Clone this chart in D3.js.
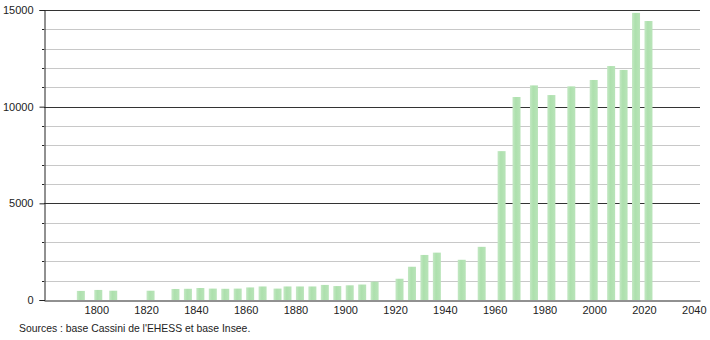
<!DOCTYPE html>
<html>
<head>
<meta charset="utf-8">
<script src="https://cdn.jsdelivr.net/npm/d3@7"></script>
<style>
  body { margin: 0; background: #fff; }
  text { font-family: "Liberation Sans", Arial, sans-serif; }
</style>
</head>
<body>
<div id="chart"></div>
<script>
// Census years and population
const years = [1793, 1800, 1806, 1821, 1831, 1836, 1841, 1846, 1851, 1856, 1861, 1866,
  1872, 1876, 1881, 1886, 1891, 1896, 1901, 1906, 1911, 1921, 1926, 1931, 1936, 1946,
  1954, 1962, 1968, 1975, 1982, 1990, 1999, 2006, 2011, 2016, 2021];
const population = [470, 520, 480, 480, 570, 580, 620, 590, 580, 590, 650, 700,
  590, 700, 700, 700, 780, 720, 760, 800, 950, 1100, 1720, 2330, 2450, 2080,
  2750, 7700, 10500, 11100, 10600, 11050, 11380, 12100, 11900, 14850, 14430];
const xTicks = [1800, 1820, 1840, 1860, 1880, 1900, 1920, 1940, 1960, 1980, 2000, 2020, 2040];
const yTicks = [0, 5000, 10000, 15000];
const source = "Sources : base Cassini de l'EHESS et base Insee.";

const data = years.map((y, i) => ({ year: y, value: population[i] }));

const width = 710, height = 340;
const margins = { top: 10, right: 10, bottom: 40, left: 44 };

const svg = d3.select("#chart")
  .append("svg")
  .attr("width", width)
  .attr("height", height);

const xScale = d3.scaleLinear()
  .domain([1779, 2042.5])
  .range([margins.left, width - margins.right]);

const yScale = d3.scaleLinear()
  .domain([0, 15000])
  .range([height - margins.bottom, margins.top]);

// bar gradient
const grad = svg.append("defs").append("linearGradient")
  .attr("id", "barGrad")
  .attr("x1", "0%").attr("x2", "100%");
grad.append("stop").attr("offset", "0%").attr("stop-color", "#c4e8c4");
grad.append("stop").attr("offset", "40%").attr("stop-color", "#ade0ad");
grad.append("stop").attr("offset", "100%").attr("stop-color", "#b9e4b9");

// horizontal grid every 1000, darker every 5000
const grid = d3.range(1000, 15001, 1000);
svg.append("g")
  .selectAll("line")
  .data(grid)
  .join("line")
  .attr("x1", margins.left)
  .attr("x2", width - margins.right)
  .attr("y1", d => Math.round(yScale(d)) + 0.5)
  .attr("y2", d => Math.round(yScale(d)) + 0.5)
  .attr("stroke", d => d % 5000 === 0 ? "#333" : "#c8c8c8")
  .attr("stroke-width", 1);

// bars
svg.append("g")
  .selectAll("rect")
  .data(data)
  .join("rect")
  .attr("x", d => xScale(d.year) - 2)
  .attr("y", d => yScale(d.value))
  .attr("width", 8)
  .attr("height", d => yScale(0) - yScale(d.value))
  .attr("fill", "url(#barGrad)");

// y axis
const yAxis = d3.axisLeft(yScale)
  .tickValues(yTicks)
  .tickFormat(d3.format("d"))
  .tickSize(5)
  .tickPadding(6);

svg.append("g")
  .attr("transform", `translate(${margins.left + 0.5},0)`)
  .call(yAxis)
  .call(g => g.select(".domain").attr("stroke", "#222"))
  .call(g => g.selectAll(".tick line").attr("stroke", "#222"))
  .call(g => g.selectAll("text").attr("fill", "#222").style("font-size", "11px"));

// minor ticks on y axis
svg.append("g")
  .selectAll("line")
  .data(grid.filter(d => d % 5000 !== 0))
  .join("line")
  .attr("x1", margins.left - 2)
  .attr("x2", margins.left)
  .attr("y1", d => Math.round(yScale(d)) + 0.5)
  .attr("y2", d => Math.round(yScale(d)) + 0.5)
  .attr("stroke", "#222");

// x axis
const xAxis = d3.axisBottom(xScale)
  .tickValues(xTicks)
  .tickFormat(d3.format("d"))
  .tickSize(0)
  .tickPadding(6);

svg.append("g")
  .attr("transform", `translate(0,${Math.round(yScale(0)) + 0.5})`)
  .call(xAxis)
  .call(g => g.select(".domain").attr("stroke", "#222"))
  .call(g => g.selectAll("text").attr("fill", "#222").style("font-size", "11px"));

// source note
svg.append("text")
  .attr("x", 19)
  .attr("y", 332)
  .style("font-size", "10.4px")
  .attr("fill", "#222")
  .text(source);
</script>
</body>
</html>
